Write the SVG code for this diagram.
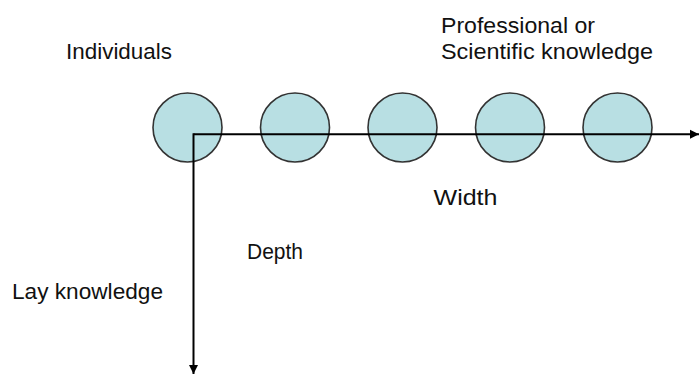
<svg xmlns="http://www.w3.org/2000/svg" width="699" height="374" viewBox="0 0 699 374">
<style>
.lbl{font-family:"Liberation Sans",Arial,sans-serif;font-size:22px;fill:#111;}
.node{fill:#b8dfe3;stroke:#333;stroke-width:1.6;}
.axis{stroke:#000;stroke-width:2;fill:none;}
</style>
<defs>
<marker id="ah" viewBox="0 0 10 10" refX="10" refY="5" markerWidth="9" markerHeight="12" markerUnits="userSpaceOnUse" orient="auto">
<path d="M0,0 L10,5 L0,10 Z" fill="#000"/>
</marker>
</defs>
<rect width="699" height="374" fill="#fff"/>
<g id="node1"><circle class="node" cx="187.5" cy="127.5" r="34.5"/></g>
<g id="node2"><circle class="node" cx="295" cy="127.5" r="34.5"/></g>
<g id="node3"><circle class="node" cx="402.5" cy="127.5" r="34.5"/></g>
<g id="node4"><circle class="node" cx="510" cy="127.5" r="34.5"/></g>
<g id="node5"><circle class="node" cx="617.5" cy="127.5" r="34.5"/></g>
<g id="connectors">
<line class="axis" x1="193.5" y1="134.3" x2="699" y2="134.3" marker-end="url(#ah)"/>
<line class="axis" x1="193.5" y1="133.3" x2="193.5" y2="374" marker-end="url(#ah)"/>
</g>
<g id="labels">
<text class="lbl" x="66" y="59" textLength="106" lengthAdjust="spacingAndGlyphs">Individuals</text>
<text class="lbl" x="441" y="32.5" textLength="154" lengthAdjust="spacingAndGlyphs">Professional or</text>
<text class="lbl" x="441" y="58.5" textLength="212" lengthAdjust="spacingAndGlyphs">Scientific knowledge</text>
<text class="lbl" x="433.5" y="205" textLength="64" lengthAdjust="spacingAndGlyphs">Width</text>
<text class="lbl" x="247" y="258.5" textLength="56" lengthAdjust="spacingAndGlyphs">Depth</text>
<text class="lbl" x="12" y="299" textLength="151" lengthAdjust="spacingAndGlyphs">Lay knowledge</text>
</g>
</svg>
